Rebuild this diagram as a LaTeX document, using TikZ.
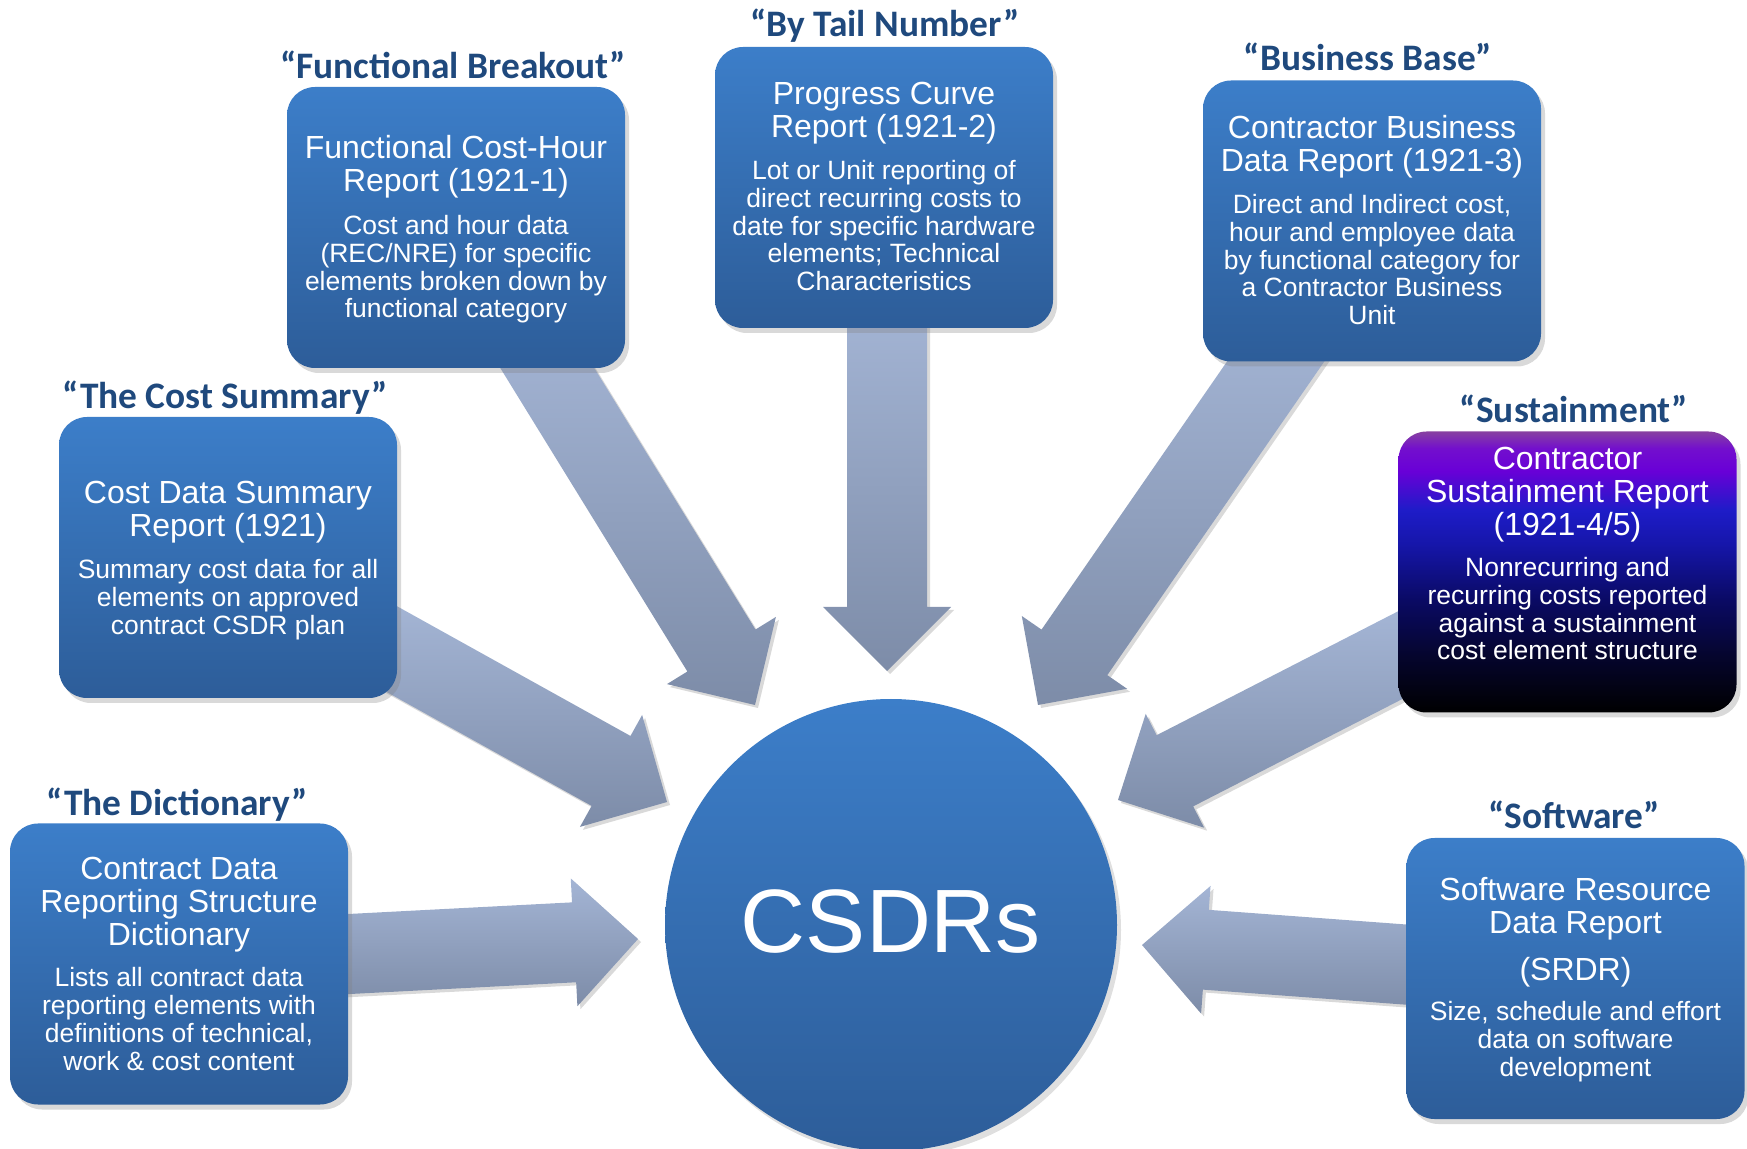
\documentclass[tikz,border=0pt]{standalone}
\usepackage{fontspec}
\setmainfont{Liberation Sans}
\newfontfamily\labelfont{Carlito}
\usetikzlibrary{calc,shadows}

\definecolor{boxtop}{RGB}{60,126,201}
\definecolor{boxbot}{RGB}{45,93,153}
\definecolor{arrtop}{RGB}{164,181,213}
\definecolor{arrbot}{RGB}{125,140,168}
\definecolor{labelblue}{RGB}{31,73,125}
\definecolor{sA}{RGB}{135,65,160}
\definecolor{sB}{RGB}{115,15,205}
\definecolor{sC}{RGB}{105,0,215}
\definecolor{sD}{RGB}{30,28,200}
\definecolor{sE}{RGB}{22,22,170}
\definecolor{sF}{RGB}{10,10,100}
\definecolor{sG}{RGB}{5,5,45}
\pgfdeclareverticalshading{sustshade}{100bp}{color(0bp)=(black); color(25bp)=(black); color(35bp)=(sG); color(45bp)=(sF); color(55bp)=(sE); color(61bp)=(sD); color(68bp)=(sC); color(72bp)=(sB); color(75bp)=(sA); color(100bp)=(sA)}

\newcommand\fatarr[2]{%
  \coordinate (#1-n) at ($(#2)!32pt!(#1)$);
  \path[fatarrow] ($(#1)!20pt!90:(#2)$) -- ($(#1-n)!20pt!90:(#2)$) -- ($(#1-n)!32pt!90:(#2)$) -- (#2)
    -- ($(#1-n)!32pt!-90:(#2)$) -- ($(#1-n)!20pt!-90:(#2)$) -- ($(#1)!20pt!-90:(#2)$) -- cycle;
}

\tikzset{
  fatarrow/.style={top color=arrtop, bottom color=arrbot, draw=none,
    drop shadow={opacity=0.3, shadow xshift=1.5pt, shadow yshift=-1.5pt}},
  reportbox/.style={rounded corners=14pt, minimum width=169pt, minimum height=140.5pt,
    inner sep=0pt, draw=none, top color=boxtop, bottom color=boxbot,
    drop shadow={opacity=0.3, shadow xshift=2pt, shadow yshift=-2.5pt}},
  sustbox/.style={reportbox, shading=sustshade},
  titletext/.style={text=white, align=center, inner sep=0pt, anchor=north,
    font=\fontsize{16}{16.5}\selectfont},
  bodytext/.style={text=white, align=center, inner sep=0pt, anchor=north,
    font=\fontsize{13.25}{13.9}\selectfont},
  tagtext/.style={text=labelblue, inner sep=0pt,
    font=\labelfont\bfseries\fontsize{18.7}{21}\selectfont},
  hub/.style={circle, minimum size=226pt, inner sep=0pt, draw=none,
    top color=boxtop, bottom color=boxbot,
    drop shadow={opacity=0.25, shadow xshift=2pt, shadow yshift=-2.5pt}},
}

\begin{document}
\begin{tikzpicture}[x=0.5pt, y=-0.5pt]
\useasboundingbox (0,0) rectangle (1747,1149);

% arrow tails and tips
\coordinate (t1) at (530,340);   \coordinate (p1) at (755,705);
\coordinate (t2) at (887,300);   \coordinate (p2) at (887,671);
\coordinate (t3) at (1294,335);  \coordinate (p3) at (1038,705);
\coordinate (t4) at (370,637);   \coordinate (p4) at (667,802);
\coordinate (t5) at (1420,645);  \coordinate (p5) at (1118,800);
\coordinate (t6) at (330,955);   \coordinate (p6) at (638,939);
\coordinate (t7) at (1425,966);  \coordinate (p7) at (1142,945);

\fatarr{t1}{p1}
\fatarr{t2}{p2}
\fatarr{t3}{p3}
\fatarr{t4}{p4}
\fatarr{t5}{p5}
\fatarr{t6}{p6}
\fatarr{t7}{p7}

% central circle
\node[hub] (csdr) at (891,925) {};
\node[text=white, inner sep=0pt, font=\fontsize{45}{50}\selectfont] (csdrtxt) at (891,922) {CSDRs};

% Functional
\node[reportbox] (func) at (456,227.5) {};
\node[tagtext] (funcL) at (453,65) {“Functional Breakout”};
\node[titletext] (funcT) at (456,135) {Functional Cost-Hour\\Report (1921-1)};
\node[bodytext] (funcB) at (456,215) {Cost and hour data\\(REC/NRE) for specific\\elements broken down by\\functional category};

% Progress
\node[reportbox] (prog) at (884,187.5) {};
\node[tagtext] (progL) at (885,26) {“By Tail Number”};
\node[titletext] (progT) at (884,82) {Progress Curve\\Report (1921-2)};
\node[bodytext] (progB) at (884,160) {Lot or Unit reporting of\\direct recurring costs to\\date for specific hardware\\elements; Technical\\Characteristics};

% Business
\node[reportbox] (bus) at (1372,221) {};
\node[tagtext] (busL) at (1368,57) {“Business Base”};
\node[titletext] (busT) at (1372,115) {Contractor Business\\Data Report (1921-3)};
\node[bodytext] (busB) at (1372,194) {Direct and Indirect cost,\\hour and employee data\\by functional category for\\a Contractor Business\\Unit};

% Cost summary
\node[reportbox] (cost) at (228,557.5) {};
\node[tagtext] (costL) at (225,398) {“The Cost Summary”};
\node[titletext] (costT) at (228,481) {Cost Data Summary\\Report (1921)};
\node[bodytext] (costB) at (228,559) {Summary cost data for all\\elements on approved\\contract CSDR plan};

% Sustainment
\node[sustbox] (sust) at (1567.5,572) {};
\node[tagtext] (sustL) at (1574,409) {“Sustainment”};
\node[titletext] (sustT) at (1567.5,447) {Contractor\\Sustainment Report\\(1921-4/5)};
\node[bodytext] (sustB) at (1567.5,557) {Nonrecurring and\\recurring costs reported\\against a sustainment\\cost element structure};

% Dictionary
\node[reportbox] (dict) at (179,964) {};
\node[tagtext] (dictL) at (177,805) {“The Dictionary”};
\node[titletext] (dictT) at (179,857) {Contract Data\\Reporting Structure\\Dictionary};
\node[bodytext] (dictB) at (179,967) {Lists all contract data\\reporting elements with\\definitions of technical,\\work \& cost content};

% Software
\node[reportbox] (soft) at (1575.5,978.5) {};
\node[tagtext] (softL) at (1574,815) {“Software”};
\node[titletext] (softT) at (1575.5,877) {Software Resource\\Data Report};
\node[titletext] (softS) at (1575.5,957) {(SRDR)};
\node[bodytext] (softB) at (1575.5,1001) {Size, schedule and effort\\data on software\\development};
\end{tikzpicture}
\end{document}
